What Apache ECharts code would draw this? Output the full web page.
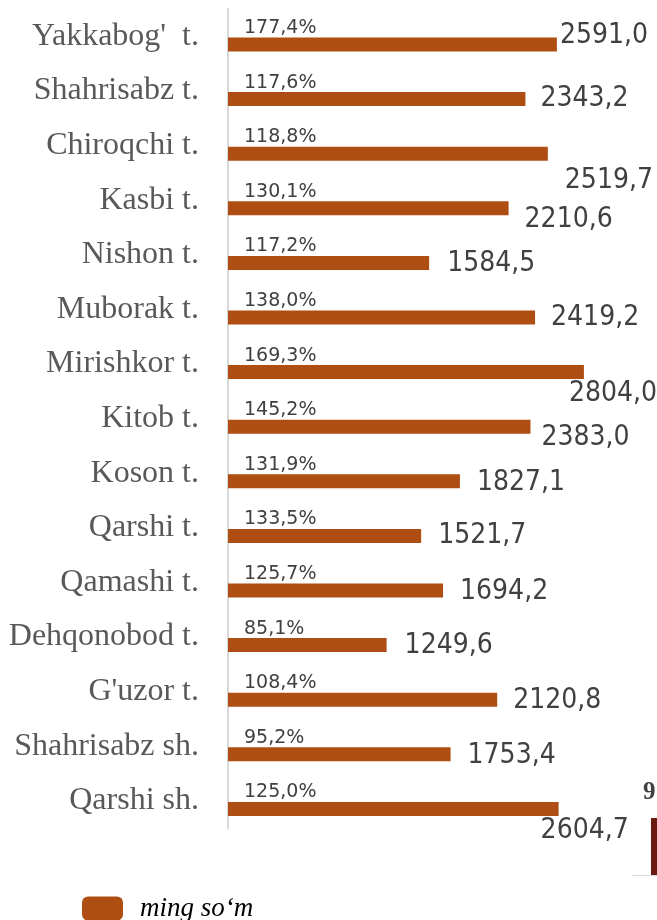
<!DOCTYPE html>
<html>
<head>
<meta charset="utf-8">
<script src="https://cdn.jsdelivr.net/npm/echarts@6/dist/echarts.min.js"></script>
<style>
  html, body { margin: 0; padding: 0; background: #ffffff; }
  #chart { width: 657px; height: 920px; }
</style>
</head>
<body>
<div id="chart"></div>
<script>
// Districts and cities, top to bottom
const categories = [
  "Yakkabog'  t.", 'Shahrisabz t.', 'Chiroqchi t.', 'Kasbi t.', 'Nishon t.',
  'Muborak t.', 'Mirishkor t.', 'Kitob t.', 'Koson t.', 'Qarshi t.',
  'Qamashi t.', 'Dehqonobod t.', "G'uzor t.", 'Shahrisabz sh.', 'Qarshi sh.'
];

// Amount, thousand so'm
const amounts = [
  2591.0, 2343.2, 2519.7, 2210.6, 1584.5,
  2419.2, 2804.0, 2383.0, 1827.1, 1521.7,
  1694.2, 1249.6, 2120.8, 1753.4, 2604.7
];

// Growth, percent
const growth = [
  177.4, 117.6, 118.8, 130.1, 117.2,
  138.0, 169.3, 145.2, 131.9, 133.5,
  125.7, 85.1, 108.4, 95.2, 125.0
];

const seriesName = 'ming so\u2018m';

// Hand-placed nudges [dx, dy] for the amount labels
const labelNudge = [
  [-13, -9], [-1, 0], [1, 27], [0, 11], [2, 1],
  [0, 0], [-31, 22], [-5, 11], [1, 1], [1, 0],
  [1, 1], [2, 1], [0, 1], [1, 1], [-34, 22]
];

const fmt = v => v.toFixed(1).replace('.', ',');

const barColor = '#AE4E13';
const chart = echarts.init(document.getElementById('chart'), null, { renderer: 'canvas' });

chart.setOption({
  animation: false,
  backgroundColor: '#ffffff',
  grid: { left: 228, right: 48.2, top: 9, bottom: 92, containLabel: false },
  xAxis: {
    type: 'value', min: 0, max: 3000, show: false,
    splitLine: { show: false }
  },
  yAxis: {
    type: 'category',
    data: categories,
    inverse: true,
    axisLine: { show: true, lineStyle: { color: '#d9d9d9', width: 2 } },
    axisTick: { show: false },
    axisLabel: {
      margin: 29,
      color: '#595959',
      fontFamily: '"Liberation Serif", "Times New Roman", serif',
      fontSize: 32,
      padding: [0, 0, 4, 0]
    }
  },
  legend: {
    data: [seriesName],
    left: 82, top: 895,
    padding: 0,
    itemWidth: 41, itemHeight: 24,
    icon: 'roundRect',
    textStyle: {
      color: '#000000',
      fontFamily: '"Liberation Serif", "Times New Roman", serif',
      fontStyle: 'italic',
      fontSize: 27,
      padding: [0, 0, 0, 12]
    }
  },
  series: [
    {
      name: 'growth',
      type: 'bar',
      barWidth: 14,
      barGap: '17%',
      data: growth,
      itemStyle: { color: 'transparent' },
      label: {
        show: true,
        position: 'insideLeft',
        distance: 16,
        color: '#404040',
        fontFamily: '"DejaVu Sans", Verdana, sans-serif',
        fontSize: 19,
        formatter: p => fmt(growth[p.dataIndex]) + '%'
      },
      silent: true
    },
    {
      name: seriesName,
      type: 'bar',
      barWidth: 14,
      barGap: '17%',
      data: amounts.map((v, i) => ({
        value: v,
        label: { offset: labelNudge[i] }
      })),
      itemStyle: { color: barColor },
      label: {
        show: true,
        position: 'right',
        distance: 16,
        color: '#404040',
        fontFamily: '"DejaVu Sans Condensed", "DejaVu Sans", sans-serif',
        fontSize: 28,
        formatter: p => fmt(p.value)
      }
    }
  ],
  graphic: [
    {
      type: 'text', left: 643, top: 780,
      style: {
        text: '9', fill: '#404040',
        font: 'bold 25px "Liberation Serif", serif'
      }
    },
    {
      type: 'rect', shape: { x: 651, y: 818, width: 6, height: 57 },
      style: { fill: '#6B1A10' }
    },
    {
      type: 'line', shape: { x1: 632, y1: 875.5, x2: 657, y2: 875.5 },
      style: { stroke: '#d9d9d9', lineWidth: 1 }
    }
  ]
});
</script>
</body>
</html>
